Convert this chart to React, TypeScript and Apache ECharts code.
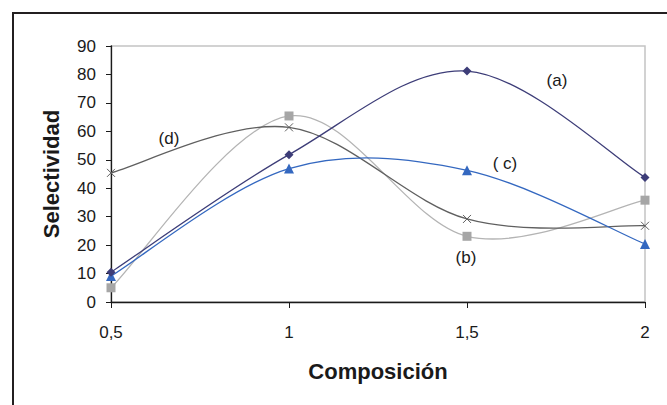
import React, { useEffect, useRef } from "react";
import * as echarts from "echarts";

const categories = ["0,5", "1", "1,5", "2"];
const seriesA = [10.5, 51.8, 81.2, 43.8];
const seriesB = [5.0, 65.4, 23.1, 35.8];
const seriesC = [9.1, 46.9, 46.3, 20.4];
const seriesD = [45.4, 61.4, 29.2, 26.8];
const yTicks = { min: 0, max: 90, interval: 10 };
const annotations = [
  { text: "(a)", x: 557, y: 80 },
  { text: "(b)", x: 466, y: 257 },
  { text: "( c)", x: 505, y: 163 },
  { text: "(d)", x: 169, y: 138 },
];

const FONT = "'Liberation Sans', Arial, sans-serif";

// Excel-like smoothed line (Catmull-Rom -> cubic Bezier), drawn through the axis scales
function smoothSeries(name: string, values: number[], color: string, width: number) {
  return {
    name: name + "-line",
    type: "custom",
    data: [[0, values[0]]],
    z: 2,
    silent: true,
    renderItem: (params: any, api: any) => {
      if (params.dataIndex !== 0) return null;
      const pts = values.map((v, i) => api.coord([i, v]));
      let d = `M${pts[0][0]},${pts[0][1]}`;
      for (let i = 0; i < pts.length - 1; i++) {
        const p0 = pts[Math.max(i - 1, 0)];
        const p1 = pts[i];
        const p2 = pts[i + 1];
        const p3 = pts[Math.min(i + 2, pts.length - 1)];
        const c1x = p1[0] + (p2[0] - p0[0]) / 6;
        const c1y = p1[1] + (p2[1] - p0[1]) / 6;
        const c2x = p2[0] - (p3[0] - p1[0]) / 6;
        const c2y = p2[1] - (p3[1] - p1[1]) / 6;
        d += ` C${c1x},${c1y} ${c2x},${c2y} ${p2[0]},${p2[1]}`;
      }
      return {
        type: "path",
        shape: { pathData: d },
        style: { stroke: color, fill: "none", lineWidth: width },
      };
    },
  };
}

function markerSeries(name: string, values: number[], symbol: string, size: number, itemStyle: any) {
  return {
    name,
    type: "line",
    data: values,
    symbol,
    symbolSize: size,
    showSymbol: true,
    lineStyle: { width: 0, opacity: 0 },
    itemStyle,
    z: 4,
  };
}

export default function App() {
  const ref = useRef<HTMLDivElement>(null);
  useEffect(() => {
    if (!ref.current) return;
    const chart = echarts.init(ref.current, undefined, { renderer: "svg" });
    chart.setOption({
      animation: false,
      textStyle: { fontFamily: FONT },
      grid: {
        left: 111,
        right: 22,
        top: 46,
        bottom: 103,
        show: true,
        borderColor: "#c4c4c4",
        borderWidth: 1.5,
        backgroundColor: "transparent",
      },
      xAxis: {
        type: "category",
        data: categories,
        boundaryGap: false,
        name: "Composición",
        nameLocation: "middle",
        nameGap: 58,
        nameTextStyle: { fontSize: 22, fontWeight: "bold", color: "#1a1a1a", fontFamily: FONT },
        axisLine: { show: true, lineStyle: { color: "#1a1a1a", width: 1.3 } },
        axisTick: { show: true, length: 6, lineStyle: { color: "#1a1a1a" } },
        axisLabel: { fontSize: 17, color: "#1a1a1a", margin: 22, fontFamily: FONT },
        splitLine: { show: false },
      },
      yAxis: {
        type: "value",
        min: yTicks.min,
        max: yTicks.max,
        interval: yTicks.interval,
        name: "Selectividad",
        nameLocation: "middle",
        nameGap: 49,
        nameTextStyle: { fontSize: 22, fontWeight: "bold", color: "#1a1a1a", fontFamily: FONT },
        axisLine: { show: true, lineStyle: { color: "#1a1a1a", width: 1.3 } },
        axisTick: { show: true, length: 5, lineStyle: { color: "#1a1a1a" } },
        axisLabel: { fontSize: 17, color: "#1a1a1a", margin: 15, fontFamily: FONT },
        splitLine: { show: false },
      },
      series: [
        smoothSeries("(b)", seriesB, "#b4b4b4", 1.3),
        smoothSeries("(d)", seriesD, "#5f5f5f", 1.3),
        smoothSeries("(c)", seriesC, "#3468c0", 1.3),
        smoothSeries("(a)", seriesA, "#3d3d78", 1.3),
        markerSeries("(b)", seriesB, "rect", 9, { color: "#a6a6a6" }),
        markerSeries("(d)", seriesD, "path://M0,0L10,10M10,0L0,10", 8, {
          color: "transparent",
          borderColor: "#5f5f5f",
          borderWidth: 1,
        }),
        markerSeries("(c)", seriesC, "triangle", 10, { color: "#3468c0" }),
        markerSeries("(a)", seriesA, "diamond", 9, { color: "#3d3d78" }),
      ],
      graphic: [
        {
          type: "rect",
          shape: { x: 13, y: 13, width: 800, height: 600 },
          style: { fill: "none", stroke: "#231f20", lineWidth: 2 },
          silent: true,
        },
        ...annotations.map((a) => ({
          type: "text",
          x: a.x,
          y: a.y,
          style: {
            text: a.text,
            fontSize: 17,
            fontFamily: FONT,
            fill: "#1a1a1a",
            align: "center",
            verticalAlign: "middle",
          },
          silent: true,
        })),
      ],
    });
    return () => chart.dispose();
  }, []);
  return (
    <div
      ref={ref}
      style={{ position: "fixed", left: 0, top: 0, width: 667, height: 405, background: "#fff" }}
    />
  );
}
